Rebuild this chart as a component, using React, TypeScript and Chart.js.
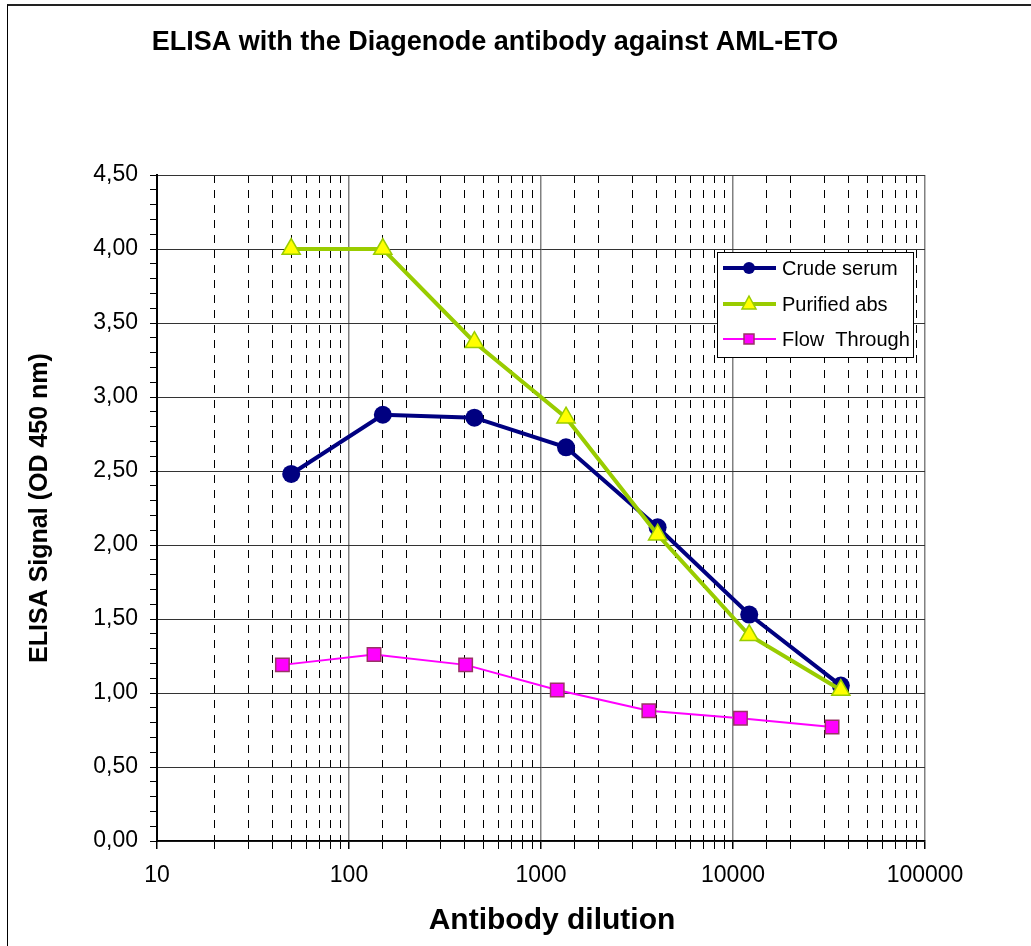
import React, { useEffect, useRef } from 'react';
import { Chart, registerables } from 'chart.js';

Chart.register(...registerables);

const seriesNames = ['Crude serum', 'Purified abs', 'Flow  Through'];
const dilutions = [50, 150, 450, 1350, 4050, 12150, 36450];
const flowDilutions = [45, 135, 405, 1215, 3645, 10935, 32805];
const crudeSerum = [2.48, 2.88, 2.86, 2.66, 2.12, 1.53, 1.05];
const purifiedAbs = [4.0, 4.0, 3.37, 2.86, 2.07, 1.39, 1.02];
const flowThrough = [1.19, 1.26, 1.19, 1.02, 0.88, 0.83, 0.77];
const xTickLabels = ['10', '100', '1000', '10000', '100000'];

const FONT = "'Liberation Sans', Arial, Helvetica, sans-serif";

const isPow10 = (v: number) => {
  const l = Math.log10(v);
  return Math.abs(l - Math.round(l)) < 1e-9;
};
const isHalf = (v: number) => {
  const t = v * 10;
  return Math.abs(t - Math.round(t)) < 1e-6 && Math.round(t) % 5 === 0;
};

export default function App() {
  const ref = useRef<HTMLCanvasElement>(null);

  useEffect(() => {
    document.body.style.margin = '0';
    document.body.style.overflow = 'hidden';
    const canvas = ref.current;
    if (!canvas) return;

    const titlePlugin = {
      id: 'customTitle',
      afterDraw(chart: any) {
        const ctx = chart.ctx;
        ctx.save();
        ctx.fillStyle = '#000';
        ctx.font = `bold 27px ${FONT}`;
        ctx.textAlign = 'center';
        ctx.textBaseline = 'alphabetic';
        ctx.fillText('ELISA with the Diagenode antibody against AML-ETO', 495, 50);
        ctx.font = `bold 30px ${FONT}`;
        ctx.fillText('Antibody dilution', 552, 929);
        ctx.restore();
      },
    };

    const legendPlugin = {
      id: 'customLegend',
      afterDraw(chart: any) {
        const ctx = chart.ctx;
        const x0 = 717, y0 = 252, w = 196, h = 105;
        ctx.save();
        ctx.fillStyle = '#fff';
        ctx.fillRect(x0, y0, w, h);
        ctx.strokeStyle = '#000';
        ctx.lineWidth = 1;
        ctx.strokeRect(x0 + 0.5, y0 + 0.5, w, h);
        const rows = [268, 304, 339];
        chart.data.datasets.forEach((ds: any, i: number) => {
          const y = rows[i];
          ctx.strokeStyle = ds.borderColor;
          ctx.lineWidth = ds.borderWidth;
          ctx.beginPath();
          ctx.moveTo(723, y);
          ctx.lineTo(776, y);
          ctx.stroke();
          const mx = 749;
          ctx.fillStyle = ds.pointBackgroundColor;
          ctx.strokeStyle = ds.pointBorderColor;
          ctx.lineWidth = ds.pointBorderWidth;
          ctx.beginPath();
          if (ds.pointStyle === 'circle') {
            ctx.arc(mx, y, 6, 0, Math.PI * 2);
            ctx.fill();
          } else if (ds.pointStyle === 'triangle') {
            ctx.moveTo(mx, y - 8);
            ctx.lineTo(mx + 7, y + 5);
            ctx.lineTo(mx - 7, y + 5);
            ctx.closePath();
            ctx.fill();
            ctx.stroke();
          } else {
            ctx.rect(mx - 5, y - 5, 10, 10);
            ctx.fill();
            ctx.stroke();
          }
          ctx.fillStyle = '#000';
          ctx.font = `20px ${FONT}`;
          ctx.textAlign = 'left';
          ctx.textBaseline = 'middle';
          ctx.fillText(ds.label, 782, y + 1);
        });
        ctx.restore();
      },
    };

    const chart = new Chart(canvas, {
      type: 'line',
      data: {
        datasets: [
          {
            label: seriesNames[0],
            data: dilutions.map((x, i) => ({ x, y: crudeSerum[i] })),
            borderColor: '#000080',
            backgroundColor: '#000080',
            borderWidth: 4,
            pointStyle: 'circle',
            pointRadius: 9,
            pointBackgroundColor: '#000080',
            pointBorderColor: '#000080',
            pointBorderWidth: 0,
            order: 1,
          },
          {
            label: seriesNames[1],
            data: dilutions.map((x, i) => ({ x, y: purifiedAbs[i] })),
            borderColor: '#99CC00',
            backgroundColor: '#FFFF00',
            borderWidth: 4,
            pointStyle: 'triangle',
            pointRadius: 10.5,
            pointBackgroundColor: '#FFFF00',
            pointBorderColor: '#99CC00',
            pointBorderWidth: 1.5,
            order: 0,
          },
          {
            label: seriesNames[2],
            data: flowDilutions.map((x, i) => ({ x, y: flowThrough[i] })),
            borderColor: '#FF00FF',
            backgroundColor: '#FF00FF',
            borderWidth: 2,
            pointStyle: 'rect',
            pointRadius: 9.5,
            pointBackgroundColor: '#FF00FF',
            pointBorderColor: '#993366',
            pointBorderWidth: 1.5,
            order: 2,
          },
        ],
      },
      options: {
        responsive: false,
        animation: false,
        layout: { padding: { left: 0, right: 106, top: 175, bottom: 0 } },
        plugins: {
          legend: { display: false },
          title: { display: false },
          tooltip: { enabled: false },
        },
        elements: { line: { tension: 0 } },
        scales: {
          x: {
            type: 'logarithmic',
            min: 10,
            max: 100000,
            afterFit: (s: any) => {
              s.height = 105;
            },
            ticks: {
              autoSkip: false,
              maxRotation: 0,
              minRotation: 0,
              padding: 13,
              color: '#000',
              font: { family: FONT, size: 23 },
              callback: (v: any) => {
                const n = Number(v);
                if (!isPow10(n)) return '';
                const lbl = String(Math.round(n));
                return xTickLabels.includes(lbl) ? lbl : '';
              },
            },
            grid: {
              color: (c: any) => (c.tick && isPow10(c.tick.value) ? '#808080' : '#000'),
              lineWidth: (c: any) => (c.tick && isPow10(c.tick.value) ? 1.5 : 1),
              tickLength: 8,
              tickColor: '#000',
              tickBorderDash: [],
            },
            border: {
              color: '#000',
              width: 1.5,
              dash: (c: any) => (c.tick && !isPow10(c.tick.value) ? [8, 7] : []),
            },
            title: { display: false },
          },
          y: {
            min: 0,
            max: 4.5,
            afterFit: (s: any) => {
              s.width = 157;
            },
            ticks: {
              stepSize: 0.1,
              maxTicksLimit: 100,
              autoSkip: false,
              padding: 12,
              color: '#000',
              font: { family: FONT, size: 23 },
              callback: (v: any) => (isHalf(Number(v)) ? Number(v).toFixed(2).replace('.', ',') : ''),
            },
            grid: {
              color: (c: any) => (c.tick && isHalf(c.tick.value) ? '#333' : 'rgba(0,0,0,0)'),
              lineWidth: 1,
              tickLength: 7,
              tickColor: '#000',
            },
            border: { color: '#000', width: 2 },
            title: {
              display: true,
              text: 'ELISA Signal (OD 450 nm)',
              color: '#000',
              font: { family: FONT, size: 25, weight: 'bold' },
              padding: { top: 25, bottom: 0 },
            },
          },
        },
      },
      plugins: [titlePlugin, legendPlugin],
    } as any);

    return () => {
      chart.destroy();
    };
  }, []);

  return (
    <div style={{ position: 'relative', width: 1031, height: 946, background: '#fff', overflow: 'hidden' }}>
      <canvas ref={ref} width={1031} height={946} style={{ display: 'block', position: 'absolute', left: 0, top: 0 }} />
      <div
        style={{
          position: 'absolute',
          left: 7,
          top: 4,
          width: 1024,
          height: 942,
          borderLeft: '1.5px solid #000',
          borderTop: '2px solid #222',
          boxSizing: 'border-box',
          pointerEvents: 'none',
        }}
      />
    </div>
  );
}
